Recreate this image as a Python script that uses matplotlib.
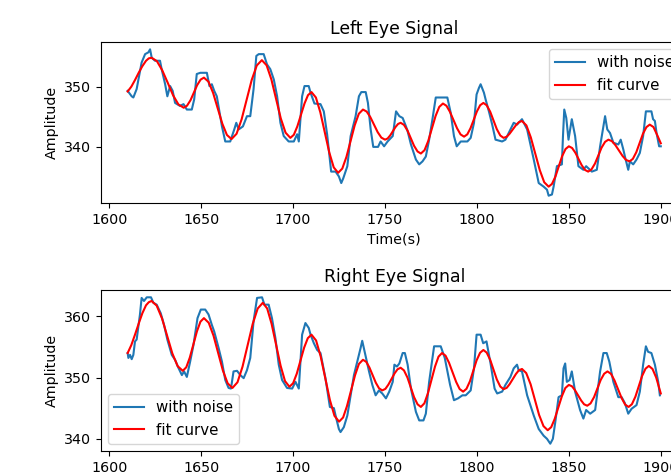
import matplotlib
matplotlib.use("Agg")
import matplotlib.pyplot as plt

# ---- left eye: noisy signal ----
left_t = [1610, 1612.2, 1613.1, 1614.9, 1617.6, 1619.5, 1621.3, 1622.2, 1623.1, 1624.9,
          1627.6, 1628.5, 1630.4, 1631.6, 1633.1, 1634.5, 1635.8, 1638.5, 1640.4, 1642.2,
          1644.9, 1646.2, 1647.6, 1649.5, 1653.1, 1654.5, 1655.8, 1657.1, 1658.5, 1661.3,
          1663.1, 1665.8, 1668.0, 1669.1, 1670.4, 1672.7, 1674.9, 1676.7, 1678.5, 1680.0,
          1681.3, 1684.0, 1685.8, 1687.6, 1689.5, 1691.3, 1693.1, 1694.9, 1697.6, 1700.4,
          1702.2, 1703.1, 1704.9, 1706.2, 1708.5, 1709.5, 1711.6, 1714.9, 1716.7, 1718.5,
          1720.7, 1723.1, 1724.9, 1726.2, 1727.3, 1729.5, 1731.3, 1734.0, 1735.8, 1737.1,
          1739.5, 1740.7, 1742.2, 1743.6, 1746.2, 1747.6, 1749.5, 1751.4, 1754.2, 1756.0,
          1757.8, 1759.6, 1761.4, 1762.3, 1764.1, 1766.8, 1768.6, 1770.4, 1772.2, 1774.0,
          1775.8, 1777.6, 1783.9, 1785.7, 1787.5, 1789.0, 1791.2, 1794.8, 1796.6, 1798.4,
          1799.8, 1801.1, 1802.0, 1803.8, 1804.7, 1806.5, 1808.3, 1810.1, 1813.7, 1815.5,
          1818.2, 1820.0, 1821.8, 1824.5, 1827.3, 1830.9, 1833.6, 1836.3, 1838.1, 1839.0,
          1840.8, 1841.7, 1843.5, 1846.2, 1846.8, 1847.5, 1848.6, 1849.8, 1850.7, 1851.6,
          1853.4, 1855.2, 1857.9, 1859.4, 1862.5, 1865.2, 1867.0, 1868.8, 1869.7, 1870.9,
          1872.4, 1874.2, 1876.9, 1878.2, 1879.6, 1880.5, 1882.3, 1883.2, 1885.0, 1886.8,
          1888.6, 1890.4, 1891.9, 1894.9, 1895.8, 1896.8, 1897.7, 1899.1, 1900]
left_noise = [349.3, 348.4, 348.2, 349.6, 354.0, 355.4, 355.7, 356.2, 354.8, 354.3,
              354.3, 352.9, 350.4, 348.4, 350.1, 349.3, 347.3, 346.8, 347.1, 346.2,
              346.2, 347.9, 352.1, 352.3, 352.3, 350.1, 350.4, 349.3, 348.4, 343.4,
              340.9, 340.9, 342.9, 344.0, 342.9, 343.4, 345.1, 345.1, 349.6, 355.1,
              355.4, 355.4, 353.7, 352.9, 351.2, 348.4, 344.0, 341.8, 340.9, 340.9,
              342.1, 340.9, 348.4, 350.1, 350.1, 349.0, 347.2, 347.1, 345.9, 342.1,
              335.9, 335.9, 335.1, 334.0, 334.8, 336.8, 341.8, 345.1, 348.4, 349.1,
              349.1, 347.3, 342.9, 340.0, 340.0, 340.9, 340.1, 340.9, 341.8, 345.9,
              345.1, 344.8, 343.4, 342.6, 340.4, 337.9, 337.1, 337.6, 338.4, 341.2,
              344.6, 348.2, 348.2, 345.7, 341.8, 340.1, 340.9, 340.9, 341.5, 344.0,
              348.7, 349.8, 350.4, 349.0, 347.9, 345.9, 343.7, 341.2, 340.9, 341.2,
              342.9, 344.0, 343.7, 344.6, 342.9, 337.9, 334.0, 333.4, 332.9, 331.9,
              332.1, 333.4, 336.8, 337.1, 341.8, 346.2, 344.8, 341.2, 342.9, 344.6,
              341.8, 336.8, 336.2, 336.8, 335.9, 336.2, 340.1, 343.4, 345.1, 342.9,
              342.3, 340.7, 340.4, 341.2, 339.6, 338.4, 336.2, 337.6, 337.1, 337.9,
              339.0, 341.8, 345.9, 345.9, 344.6, 344.3, 342.3, 340.1, 340.1]

# ---- left eye: fitted curve ----
left_fit_t = [1610, 1612, 1614, 1616, 1618, 1620, 1621.5, 1623,
              1625.9, 1628.8, 1631.8, 1634.7, 1637.6, 1640.5,
              1642.3, 1644.2, 1646.0, 1647.8, 1649.7, 1651.5,
              1654.0, 1656.5, 1659.0, 1661.5, 1664.0, 1666.5,
              1669.25, 1672.0, 1674.75, 1677.5, 1680.25, 1683.0,
              1685.6, 1688.2, 1690.75, 1693.3, 1695.9, 1698.5,
              1700.4, 1702.3, 1704.25, 1706.2, 1708.1, 1710.0,
              1712.4, 1714.8, 1717.25, 1719.7, 1722.1, 1724.5,
              1726.75, 1729.0, 1731.25, 1733.5, 1735.75, 1738.0,
              1740, 1742, 1744, 1746, 1748, 1750,
              1751.4, 1752.8, 1754.25, 1755.7, 1757.1, 1758.5,
              1760.3, 1762.2, 1764.0, 1765.8, 1767.7, 1769.5,
              1771.5, 1773.5, 1775.5, 1777.5, 1779.5, 1781.5,
              1783.4, 1785.3, 1787.25, 1789.2, 1791.1, 1793.0,
              1794.75, 1796.5, 1798.25, 1800.0, 1801.75, 1803.5,
              1805.3, 1807.2, 1809.0, 1810.8, 1812.7, 1814.5,
              1816.2, 1817.8, 1819.5, 1821.2, 1822.8, 1824.5,
              1826.9, 1829.3, 1831.75, 1834.2, 1836.6, 1839.0,
              1840.8, 1842.7, 1844.5, 1846.3, 1848.2, 1850.0,
              1851.75, 1853.5, 1855.25, 1857.0, 1858.75, 1860.5,
              1862.3, 1864.2, 1866.0, 1867.8, 1869.7, 1871.5,
              1873.4, 1875.3, 1877.25, 1879.2, 1881.1, 1883.0,
              1884.8, 1886.7, 1888.5, 1890.3, 1892.2, 1894.0,
              1896, 1898, 1900]
left_fit = [349.2, 350.0, 351.1, 352.3, 353.4, 354.3, 354.7, 354.8,
            354.24, 352.73, 350.65, 348.58, 347.06, 346.5,
            346.84, 347.75, 349.0, 350.25, 351.17, 351.5,
            350.82, 348.95, 346.4, 343.85, 341.98, 341.3,
            342.18, 344.58, 347.85, 351.13, 353.52, 354.4,
            353.54, 351.18, 347.95, 344.73, 342.36, 341.5,
            342.01, 343.4, 345.3, 347.2, 348.59, 349.1,
            348.2, 345.75, 342.4, 339.05, 336.6, 335.7,
            336.4, 338.33, 340.95, 343.58, 345.5, 346.2,
            345.87, 344.95, 343.7, 342.45, 341.54, 341.2,
            341.39, 341.9, 342.6, 343.3, 343.81, 344.0,
            343.66, 342.73, 341.45, 340.18, 339.24, 338.9,
            339.46, 340.98, 343.05, 345.13, 346.64, 347.2,
            346.83, 345.83, 344.45, 343.08, 342.07, 341.7,
            342.08, 343.1, 344.5, 345.9, 346.92, 347.3,
            346.91, 345.85, 344.4, 342.95, 341.89, 341.5,
            341.69, 342.2, 342.9, 343.6, 344.11, 344.3,
            343.57, 341.58, 338.85, 336.13, 334.13, 333.4,
            333.85, 335.08, 336.75, 338.43, 339.65, 340.1,
            339.82, 339.05, 338.0, 336.95, 336.18, 335.9,
            336.26, 337.23, 338.55, 339.88, 340.84, 341.2,
            340.96, 340.3, 339.4, 338.5, 337.84, 337.6,
            338.01, 339.13, 340.65, 342.18, 343.29, 343.7,
            343.3, 342.0, 340.6]

# ---- right eye: noisy signal ----
right_t = [1610, 1610.4, 1611.3, 1612.2, 1613.1, 1614.0, 1614.9, 1616.7, 1617.6, 1618.9,
           1620.4, 1622.7, 1624.0, 1625.8, 1628.0, 1629.8, 1631.6, 1634.0, 1635.8, 1637.6,
           1639.5, 1640.7, 1642.2, 1644.0, 1645.8, 1648.0, 1649.8, 1652.2, 1654.0, 1655.8,
           1657.1, 1659.5, 1661.3, 1663.1, 1664.9, 1666.2, 1667.6, 1669.5, 1671.3, 1673.1,
           1674.9, 1676.7, 1678.5, 1680.4, 1683.1, 1684.4, 1686.7, 1688.5, 1690.4, 1692.2,
           1694.0, 1696.7, 1699.5, 1701.3, 1703.1, 1704.9, 1706.7, 1708.5, 1709.5, 1711.3,
           1713.1, 1714.9, 1717.6, 1720.0, 1722.2, 1723.1, 1724.9, 1725.8, 1727.6, 1729.5,
           1733.1, 1734.9, 1736.7, 1737.6, 1739.5, 1741.3, 1743.1, 1744.9, 1746.7, 1748.5,
           1750.5, 1752.3, 1754.2, 1755.1, 1756.5, 1757.8, 1759.6, 1760.8, 1762.3, 1764.1,
           1766.8, 1768.6, 1770.9, 1772.2, 1774.0, 1776.7, 1780.3, 1782.5, 1785.4, 1787.5,
           1789.7, 1792.1, 1793.9, 1796.6, 1798.4, 1799.8, 1802.0, 1803.4, 1805.2, 1807.4,
           1809.6, 1811.0, 1813.7, 1815.5, 1818.2, 1820.0, 1821.8, 1822.7, 1824.5, 1827.3,
           1830.9, 1833.6, 1836.3, 1838.1, 1839.9, 1841.3, 1842.6, 1844.4, 1846.2, 1847.1,
           1848.0, 1848.9, 1850.4, 1851.6, 1853.4, 1856.1, 1857.9, 1859.4, 1861.6, 1864.3,
           1867.0, 1868.8, 1870.6, 1872.0, 1874.2, 1876.9, 1878.7, 1880.5, 1882.3, 1884.1,
           1886.8, 1888.6, 1890.4, 1891.9, 1893.1, 1894.9, 1896.8, 1898.6, 1899.5]
right_noise = [354.0, 353.2, 353.7, 353.0, 353.7, 355.9, 356.2, 360.3, 363.0, 362.5,
               363.1, 363.1, 362.2, 361.9, 360.5, 358.6, 356.2, 353.7, 352.9, 351.6,
               350.4, 351.0, 350.1, 352.6, 355.3, 359.7, 361.1, 361.1, 360.3, 358.6,
               357.5, 354.8, 352.6, 349.6, 348.3, 348.2, 351.0, 351.1, 350.4, 349.9,
               351.2, 353.2, 359.2, 363.0, 363.1, 361.9, 361.9, 359.7, 356.4, 352.1,
               349.6, 348.3, 348.2, 349.3, 348.2, 357.0, 358.9, 358.1, 357.0, 355.6,
               354.5, 354.0, 349.9, 345.2, 345.0, 343.8, 341.6, 341.1, 341.9, 343.8,
               350.4, 352.6, 354.8, 356.0, 353.4, 351.0, 348.8, 347.1, 347.9, 347.4,
               346.6, 347.7, 349.3, 352.1, 351.8, 352.3, 354.0, 354.0, 352.1, 348.2,
               344.4, 343.0, 343.0, 344.1, 349.3, 355.1, 355.1, 353.2, 348.8, 346.3,
               346.6, 347.1, 347.1, 347.9, 351.5, 357.0, 357.0, 355.6, 355.9, 352.3,
               348.2, 347.4, 347.7, 348.8, 350.1, 351.5, 352.1, 351.2, 351.0, 347.1,
               343.8, 341.6, 340.5, 340.0, 339.2, 340.0, 342.7, 346.8, 347.1, 351.5,
               352.3, 349.3, 349.6, 351.0, 347.7, 344.7, 343.3, 344.7, 344.1, 344.7,
               351.0, 354.0, 354.0, 352.6, 349.3, 346.8, 346.8, 345.8, 344.1, 344.9,
               345.5, 347.7, 352.1, 355.1, 354.2, 354.0, 352.1, 349.3, 347.1]

# ---- right eye: fitted curve ----
right_fit_t = [1610, 1612, 1614, 1616, 1618, 1620, 1621.5, 1623,
               1625.8, 1628.7, 1631.5, 1634.3, 1637.2, 1640.0,
               1641.9, 1643.8, 1645.75, 1647.7, 1649.6, 1651.5,
               1654.1, 1656.7, 1659.25, 1661.8, 1664.4, 1667.0,
               1669.75, 1672.5, 1675.25, 1678.0, 1680.75, 1683.5,
               1685.9, 1688.3, 1690.75, 1693.2, 1695.6, 1698.0,
               1700, 1702, 1704, 1706, 1708, 1710,
               1712.5, 1715.0, 1717.5, 1720.0, 1722.5, 1725.0,
               1727.2, 1729.3, 1731.5, 1733.7, 1735.8, 1738.0,
               1739.75, 1741.5, 1743.25, 1745.0, 1746.75, 1748.5,
               1750.2, 1751.8, 1753.5, 1755.2, 1756.8, 1758.5,
               1760.3, 1762.2, 1764.0, 1765.8, 1767.7, 1769.5,
               1771.4, 1773.3, 1775.25, 1777.2, 1779.1, 1781.0,
               1782.9, 1784.8, 1786.75, 1788.7, 1790.6, 1792.5,
               1794.3, 1796.2, 1798.0, 1799.8, 1801.7, 1803.5,
               1805.3, 1807.2, 1809.0, 1810.8, 1812.7, 1814.5,
               1816.2, 1817.8, 1819.5, 1821.2, 1822.8, 1824.5,
               1826.8, 1829.2, 1831.5, 1833.8, 1836.2, 1838.5,
               1840.4, 1842.3, 1844.25, 1846.2, 1848.1, 1850.0,
               1851.7, 1853.3, 1855.0, 1856.7, 1858.3, 1860.0,
               1861.8, 1863.7, 1865.5, 1867.3, 1869.2, 1871.0,
               1872.9, 1874.8, 1876.75, 1878.7, 1880.6, 1882.5,
               1884.3, 1886.2, 1888.0, 1889.8, 1891.7, 1893.5,
               1895.5, 1897.5, 1900]
right_fit = [354.0, 355.3, 357.0, 358.8, 360.5, 361.8, 362.3, 362.5,
             361.74, 359.65, 356.8, 353.95, 351.86, 351.1,
             351.68, 353.25, 355.4, 357.55, 359.12, 359.7,
             358.94, 356.85, 354.0, 351.15, 349.06, 348.3,
             349.23, 351.78, 355.25, 358.73, 361.27, 362.2,
             361.28, 358.78, 355.35, 351.93, 349.42, 348.5,
             349.07, 350.63, 352.75, 354.88, 356.43, 357.0,
             356.05, 353.45, 349.9, 346.35, 343.75, 342.8,
             343.48, 345.33, 347.85, 350.38, 352.22, 352.9,
             352.57, 351.65, 350.4, 349.15, 348.24, 347.9,
             348.15, 348.83, 349.75, 350.68, 351.35, 351.6,
             351.17, 350.0, 348.4, 346.8, 345.63, 345.2,
             345.79, 347.4, 349.6, 351.8, 353.41, 354.0,
             353.58, 352.43, 350.85, 349.28, 348.12, 347.7,
             348.16, 349.4, 351.1, 352.8, 354.04, 354.5,
             354.07, 352.9, 351.3, 349.7, 348.53, 348.1,
             348.32, 348.93, 349.75, 350.58, 351.18, 351.4,
             350.73, 348.9, 346.4, 343.9, 342.07, 341.4,
             341.9, 343.25, 345.1, 346.95, 348.3, 348.8,
             348.57, 347.95, 347.1, 346.25, 345.63, 345.4,
             345.78, 346.8, 348.2, 349.6, 350.62, 351.0,
             350.61, 349.55, 348.1, 346.65, 345.59, 345.2,
             345.65, 346.88, 348.55, 350.23, 351.45, 351.9,
             351.4, 350.0, 347.4]

plt.rcParams['font.size'] = 10.3

fig = plt.figure(figsize=(6.71, 4.75), dpi=100)
# axes run past the right edge, like the cropped original
ax1 = fig.add_axes([0.1505, 0.5726, 0.874, 0.339])
ax2 = fig.add_axes([0.1505, 0.0505, 0.874, 0.339])

ax1.plot(left_t, left_noise, color="tab:blue", label="with noise")
ax1.plot(left_fit_t, left_fit, color="red", label="fit curve")
ax1.set_title("Left Eye Signal", fontsize=12.4)
ax1.set_xlabel("Time(s)")
ax1.set_ylabel("Amplitude")
ax1.legend(loc="upper right", fontsize=10.8)

ax2.plot(right_t, right_noise, color="tab:blue", label="with noise")
ax2.plot(right_fit_t, right_fit, color="red", label="fit curve")
ax2.set_title("Right Eye Signal", fontsize=12.4)
ax2.set_ylabel("Amplitude")
ax2.legend(loc="lower left", fontsize=10.8)

fig.savefig("out.png", dpi=100)
